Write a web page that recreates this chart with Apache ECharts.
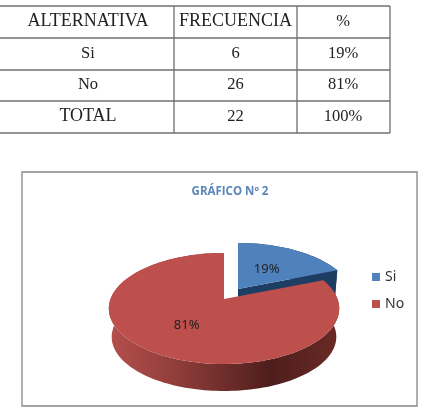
<!DOCTYPE html>
<html>
<head>
<meta charset="utf-8">
<style>html,body{margin:0;padding:0;background:#fff}#chart{width:424px;height:410px}</style>
<script src="https://cdn.jsdelivr.net/npm/echarts@6/dist/echarts.min.js"></script>
</head>
<body>
<div id="chart"></div>
<script>
// Survey results
const tableHeader = ['ALTERNATIVA', 'FRECUENCIA', '%'];
const tableRows = [
  ['Si', '6', '19%'],
  ['No', '26', '81%'],
  ['TOTAL', '22', '100%']
];
const categories = ['Si', 'No'];
const shares = [19, 81];
const chartTitle = 'GRÁFICO Nº 2';

// Table layout
const colEdges = [-2, 174, 297, 390];
const rowEdges = [6, 38, 70, 101, 133];
const lineColor = '#6f6f6f';

// Pie projection: disc coordinates to screen with a mild perspective
const apex = { x: 224, y: 299 };
const spanX = 113.5, spanY = 53.9, persp = 0.171;
const rimScale = 0.975, rimDrop = 28.6;
const explode = [{ x: 14, y: -10 }, { x: 0, y: 0 }];
const labelRadius = [0.48, 0.54];
const total = shares.reduce((a, b) => a + b, 0);

function project(u, v, offset, lower) {
  const w = 1 + persp * v;
  const s = lower ? rimScale : 1;
  return [
    apex.x + offset.x + s * spanX * u / w,
    apex.y + offset.y + s * (-spanY * v / w) + (lower ? rimDrop : 0)
  ];
}
function arc(from, to, offset, lower) {
  const pts = [];
  const n = Math.max(2, Math.ceil((to - from) / 0.03));
  for (let i = 0; i <= n; i++) {
    const t = from + (to - from) * i / n;
    pts.push(project(Math.sin(t), Math.cos(t), offset, lower));
  }
  return pts;
}

const gradients = [
  new echarts.graphic.LinearGradient(0, 0, 1, 0, [
    { offset: 0, color: '#1d3d63' }, { offset: 1, color: '#1d3d63' }
  ]),
  new echarts.graphic.LinearGradient(0, 0, 1, 0, [
    { offset: 0, color: '#b54f4c' },
    { offset: 0.3, color: '#8f3d3a' },
    { offset: 0.7, color: '#4e1e1c' },
    { offset: 1, color: '#6a2a27' }
  ])
];
const faces = ['#4f81bd', '#bd4f4c'];

function sliceRenderer(index) {
  return function (params, api) {
    const value = api.value(0);
    const before = shares.slice(0, index).reduce((a, b) => a + b, 0);
    const from = before / total * 2 * Math.PI;
    const to = (before + value) / total * 2 * Math.PI;
    const off = explode[index];
    const topArc = arc(from, to, off, false);
    const lowArc = arc(from, to, off, true);
    const hub = project(0, 0, off, false);
    const hubLow = project(0, 0, off, true);
    const children = [];
    if (index === 0) {
      // Cut wall on the trailing edge of the pulled-out slice
      children.push({
        type: 'polygon',
        shape: { points: [hub, topArc[topArc.length - 1], lowArc[lowArc.length - 1], hubLow] },
        style: { fill: gradients[0] }
      });
    }
    children.push({
      type: 'polygon',
      shape: { points: topArc.concat(lowArc.slice().reverse()) },
      style: { fill: gradients[index] }
    });
    children.push({
      type: 'polygon',
      shape: { points: [hub].concat(topArc) },
      style: { fill: faces[index] }
    });
    const mid = (from + to) / 2;
    const r = labelRadius[index];
    const at = project(r * Math.sin(mid), r * Math.cos(mid), off, false);
    children.push({
      type: 'text',
      x: at[0], y: at[1],
      style: {
        text: value + '%', fill: '#222', align: 'center', verticalAlign: 'middle',
        font: '13px "Noto Sans"'
      }
    });
    return { type: 'group', children };
  };
}

// Table rules and cell text
const tableGraphics = [];
rowEdges.forEach(y => tableGraphics.push({
  type: 'line', shape: { x1: colEdges[0], y1: y, x2: colEdges[3], y2: y },
  style: { stroke: lineColor, lineWidth: 1.3 }
}));
colEdges.slice(1).forEach(x => tableGraphics.push({
  type: 'line', shape: { x1: x, y1: rowEdges[0], x2: x, y2: rowEdges[4] },
  style: { stroke: lineColor, lineWidth: 1.3 }
}));
const colCenters = [88, 235.5, 343];
[tableHeader].concat(tableRows).forEach((row, r) => {
  row.forEach((cell, c) => tableGraphics.push({
    type: 'text',
    x: colCenters[c], y: (rowEdges[r] + rowEdges[r + 1]) / 2 - 0.5,
    style: {
      text: cell, fill: '#222', align: 'center', verticalAlign: 'middle',
      font: (/^[A-Z]+$/.test(cell) ? 18 : 16.5) + 'px "Liberation Serif"'
    }
  }));
});
// Chart frame
tableGraphics.push({
  type: 'rect', shape: { x: 22, y: 172, width: 395, height: 234 },
  style: { fill: 'none', stroke: '#858585', lineWidth: 1.3 }
});

const chart = echarts.init(document.getElementById('chart'), null, { renderer: 'canvas' });
chart.setOption({
  animation: false,
  backgroundColor: '#fff',
  title: {
    text: chartTitle, left: 225, top: 181, textAlign: 'center',
    textStyle: { color: '#5b86bb', fontSize: 11.5, fontWeight: 'bold', fontFamily: 'Open Sans' }
  },
  legend: {
    orient: 'vertical', left: 372, top: 270, padding: 0, itemWidth: 8, itemHeight: 8, itemGap: 13,
    icon: 'rect',
    data: categories,
    textStyle: { color: '#333', fontSize: 14, fontFamily: 'Noto Sans' }
  },
  graphic: tableGraphics,
  series: categories.map((name, i) => ({
    type: 'custom',
    name,
    coordinateSystem: 'none',
    renderItem: sliceRenderer(i),
    data: [shares[i]],
    itemStyle: { color: faces[i] },
    z: 2 + i
  }))
});
</script>
</body>
</html>
